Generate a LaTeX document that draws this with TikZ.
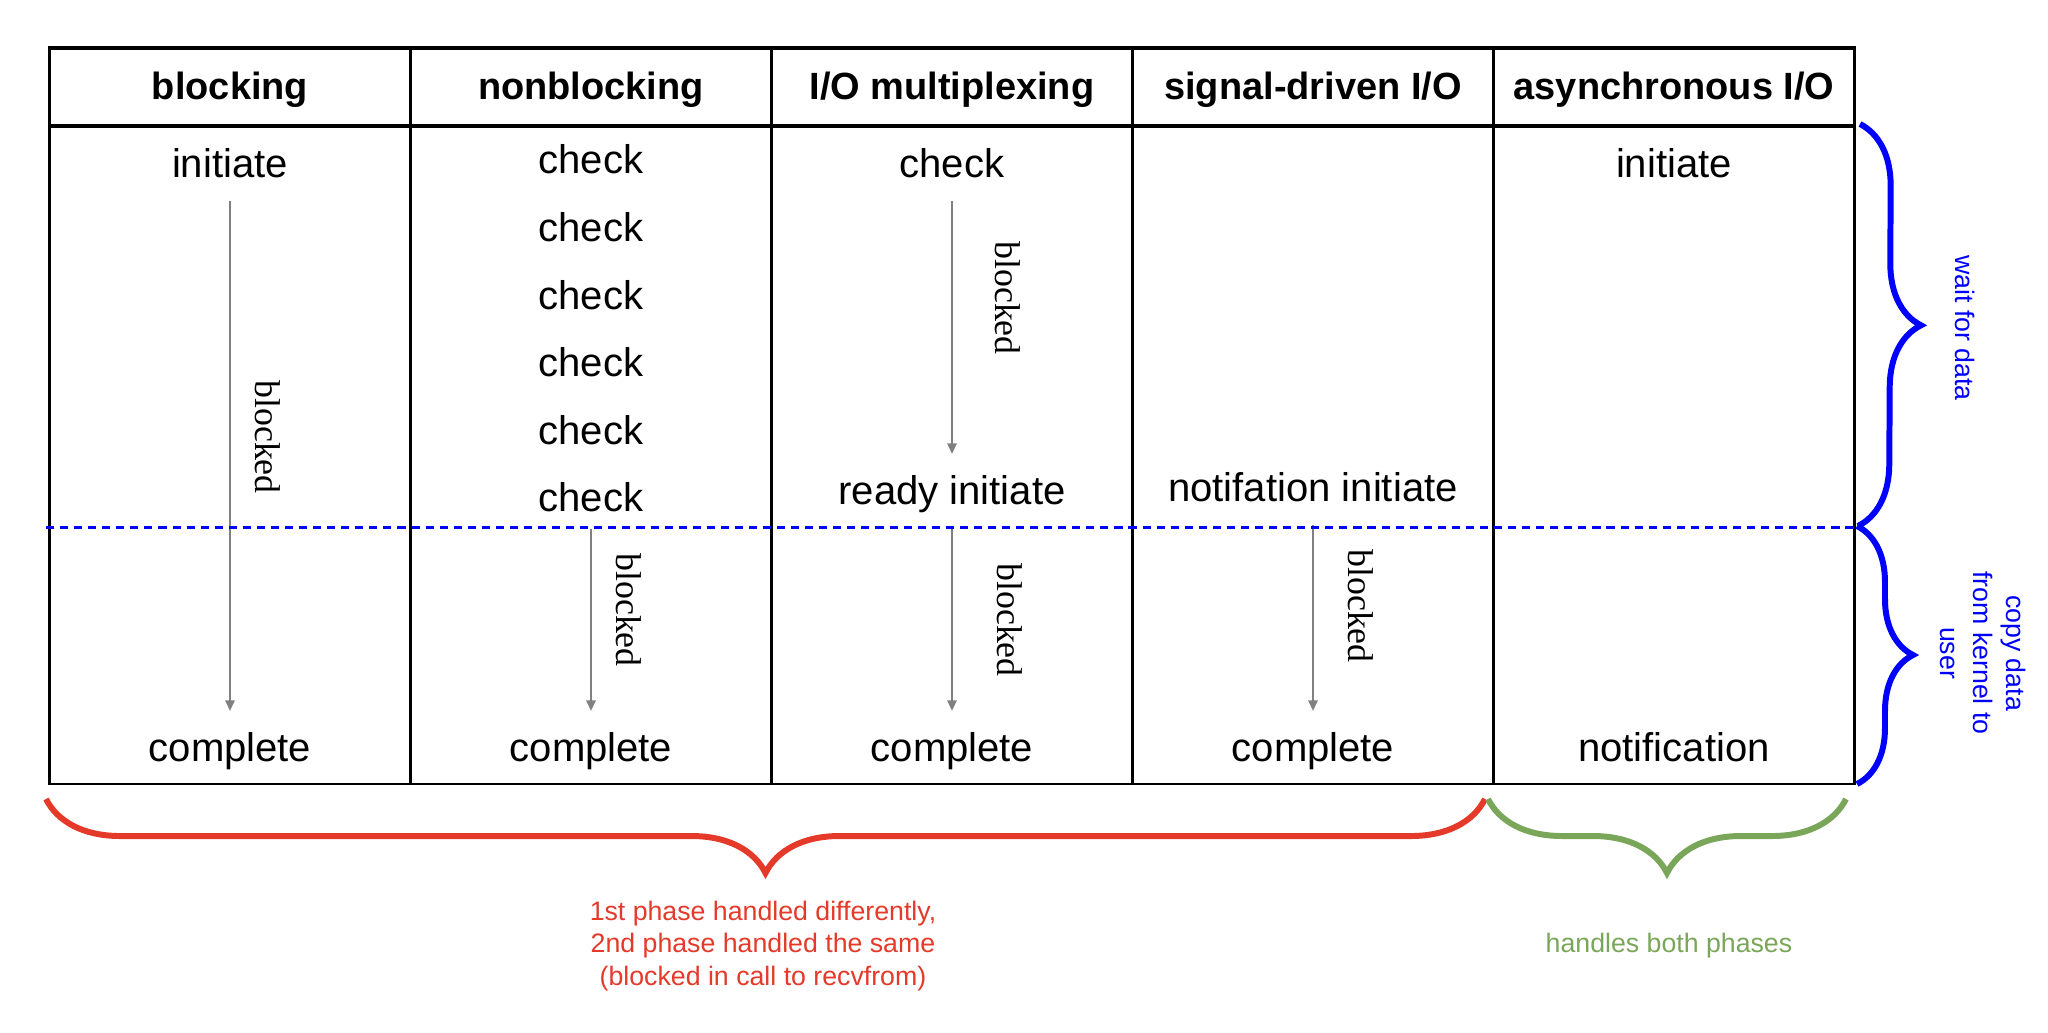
\documentclass[tikz,border=0pt]{standalone}
\usepackage{fontspec}
\setmainfont{Liberation Sans}
\newfontfamily\blockedfont{Liberation Serif}
\usepackage{tikz}
\usetikzlibrary{arrows.meta, positioning, decorations.pathreplacing}
\definecolor{phasered}{RGB}{229,57,42}
\definecolor{phasegreen}{RGB}{122,166,90}
\definecolor{flowgray}{RGB}{128,128,128}

\begin{document}
\begin{tikzpicture}[node distance=0pt]
\tikzstyle{cell} = [rectangle, draw=black, line width=0.7pt, minimum width=3.61cm, minimum height=6.58cm, outer sep=0pt]
\tikzstyle{head} = [rectangle, draw=black, line width=1.1pt, minimum width=3.61cm, minimum height=0.78cm, outer sep=0pt, text height=0.92em, text depth=0.22em, font=\fontsize{10.8}{12}\selectfont\bfseries]
\tikzstyle{txt} = [inner sep=0pt, text height=0.72em, text depth=0.21em, font=\fontsize{11.4}{13}\selectfont]
\tikzstyle{flow} = [draw=flowgray, line width=0.6pt, -{Triangle[length=3pt,width=2.6pt]}, shorten <=0.15cm, shorten >=0.25cm]
\tikzstyle{lbl} = [inner sep=0pt, rotate=-90, font=\blockedfont\fontsize{10.2}{12}\selectfont]
\tikzstyle{brace} = [decorate, line width=1.7pt]
\tikzstyle{note} = [inner sep=0pt, align=center, font=\fontsize{7.6}{9.3}\selectfont]

\useasboundingbox (0,0) rectangle (20.48,-10.32);

\node (c1) [cell] at (2.30,-4.55) {};
\node (c2) [cell, right=of c1] {};
\node (c3) [cell, right=of c2] {};
\node (c4) [cell, right=of c3] {};
\node (c5) [cell, right=of c4] {};

\node (h1) [head, above=of c1] {blocking};
\node (h2) [head, above=of c2] {nonblocking};
\node (h3) [head, above=of c3] {I/O multiplexing};
\node (h4) [head, above=of c4] {signal-driven I/O};
\node (h5) [head, above=of c5] {asynchronous I/O};

\node (i1) [txt] at (2.30,-1.69) {initiate};
\foreach \i in {1,...,6}
  \node (k\i) [txt] at (5.91,{-1.65-0.676*(\i-1)}) {check};
\node (k0) [txt] at (9.52,-1.69) {check};
\node (ready) [txt] at (9.52,-4.96) {ready initiate};
\node (notif) [txt] at (13.13,-4.93) {notifation initiate};
\node (i5) [txt] at (16.74,-1.69) {initiate};

\node (d1) [txt] at (2.30,-7.53) {complete};
\node (d2) [txt] at (5.91,-7.53) {complete};
\node (d3) [txt] at (9.52,-7.53) {complete};
\node (d4) [txt] at (13.13,-7.53) {complete};
\node (d5) [txt] at (16.74,-7.53) {notification};

\draw [flow] (i1) -- (d1);
\draw [flow, shorten <=0.09cm] (k6) -- (d2);
\draw [flow] (k0) -- (ready);
\draw [flow, shorten <=0.13cm] (ready) -- (d3);
\draw [flow] (notif) -- (d4);

\node (b1) [lbl] at (2.68,-4.37) {blocked};
\node (b2) [lbl] at (6.29,-6.10) {blocked};
\node (b3) [lbl] at (10.08,-2.98) {blocked};
\node (b4) [lbl] at (10.10,-6.20) {blocked};
\node (b5) [lbl] at (13.61,-6.06) {blocked};

\coordinate (split-l) at (0.46,-5.27);
\coordinate (split-r) at (18.55,-5.27);
\draw [blue, line width=0.85pt, dash pattern=on 2.3pt off 1.7pt] (split-l) -- (split-r);

\draw [brace, blue, decoration={brace, amplitude=0.62cm}] (18.60,-1.24) -- (18.58,-5.26);
\draw [brace, blue, decoration={brace, amplitude=0.56cm}] (18.57,-5.26) -- (18.57,-7.84);
\draw [brace, phasered, decoration={brace, amplitude=0.74cm}] (14.85,-7.99) -- (0.46,-7.99);
\draw [brace, phasegreen, decoration={brace, amplitude=0.74cm}] (18.46,-7.99) -- (14.88,-7.99);

\node (wait) [note, blue, rotate=-90] at (19.65,-3.28) {wait for data};
\node (copy) [note, blue, rotate=-90] at (19.83,-6.53) {copy data\\from kernel to\\user};
\node (diff) [note, phasered] at (7.63,-9.46) {1st phase handled differently,\\2nd phase handled the same\\(blocked in call to recvfrom)};
\node (both) [note, phasegreen] at (16.69,-9.46) {handles both phases};

\end{tikzpicture}
\end{document}
